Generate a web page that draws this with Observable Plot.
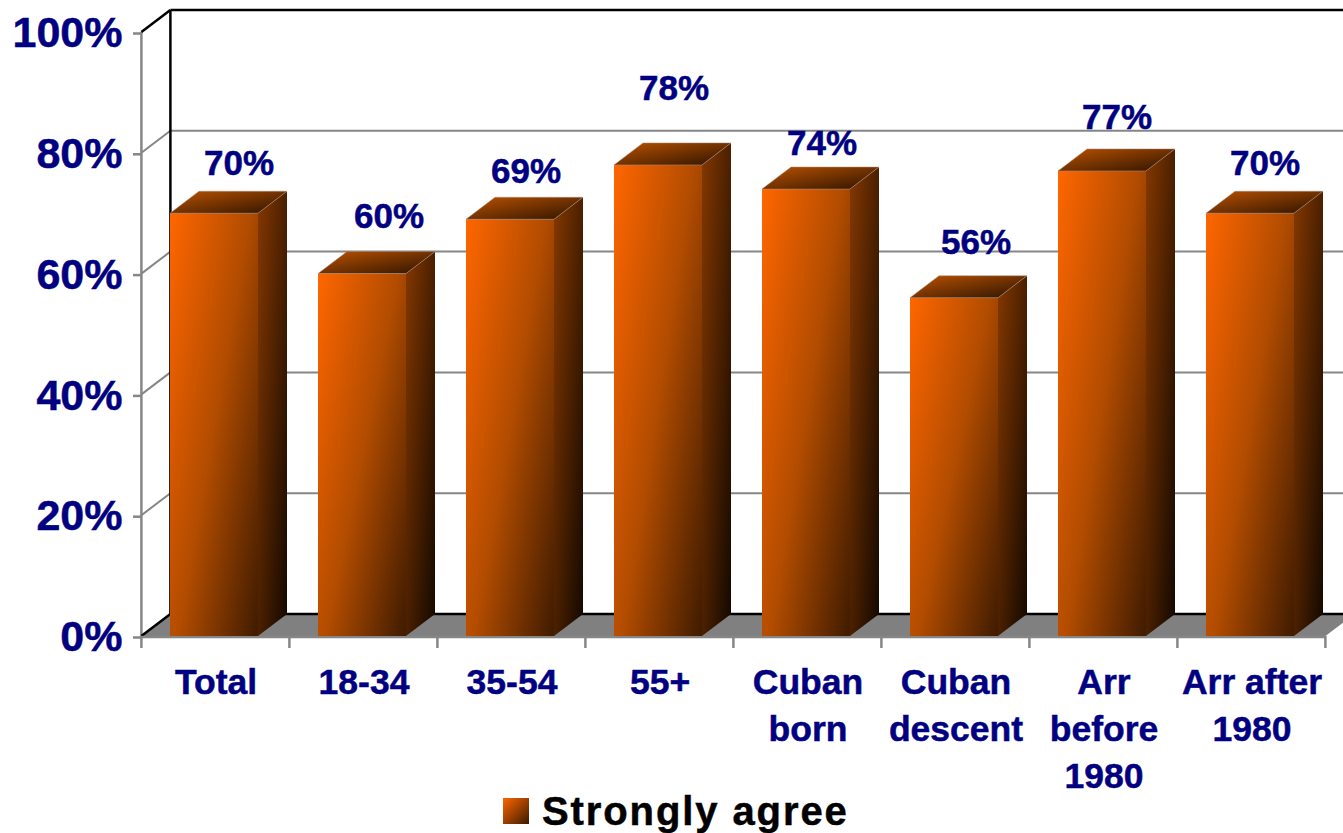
<!DOCTYPE html>
<html>
<head>
<meta charset="utf-8">
<script src="https://cdn.jsdelivr.net/npm/d3@7"></script>
<script src="https://cdn.jsdelivr.net/npm/@observablehq/plot@0.6"></script>
<style>
html,body{margin:0;padding:0;background:#fff;overflow:hidden;}
#page{position:relative;width:1343px;height:833px;}
#page svg{display:block;}
#chart svg text{stroke:#000080;stroke-width:0.5px;}
#legend{position:absolute;left:0;top:790px;width:1343px;height:43px;font-family:"Liberation Sans",Arial,sans-serif;font-weight:bold;font-size:40px;letter-spacing:1.9px;color:#000;}
#legend .sw{position:absolute;left:503px;top:8px;width:26px;height:26px;background:linear-gradient(135deg,#ff6600,#3a1a00);}
#legend .tx{position:absolute;left:542px;top:1px;line-height:41px;white-space:nowrap;-webkit-text-stroke:0.5px #000;}
</style>
</head>
<body>
<div id="page">
<div id="chart"></div>
<div id="legend"><span class="sw"></span><span class="tx">Strongly agree</span></div>
</div>
<script>
const categories = ["Total","18-34","35-54","55+","Cuban\nborn","Cuban\ndescent","Arr\nbefore\n1980","Arr after\n1980"];
const values = [70,60,69,78,74,56,77,70];
const yTicks = [0,20,40,60,80,100];

// Label placement (the original's labels float at hand-set spots)
const labelAt = [78.3,69.5,77,90.7,81.6,65.2,85.9,78.3];   // in percent units
const labelDx = [23,25,14,14,14,20,13,13];                  // in pixels

const rows = categories.map((c,i)=>({category:c,value:values[i]}));
const depthX = 29, depthY = 22, width = 1343;
const navy = "#000080", gray = "#868686";

function grad(defs,id,x2,y2,stops){
  const g = defs.append("svg:linearGradient").attr("id",id)
    .attr("x1",0).attr("y1",0).attr("x2",x2).attr("y2",y2);
  stops.forEach(([o,c])=>g.append("svg:stop").attr("offset",o).attr("stop-color",c));
}
const bw = (sx)=> sx.bandwidth ? sx.bandwidth() : 0;

// Walls, floor, gridlines, band ticks: placed with the chart's own scales
function room(index,{x,y}){
  const g = d3.create("svg:g");
  const defs = g.append("svg:defs");
  grad(defs,"front",1.089,0.891,[[0,"#ff6600"],[0.5,"#b24c00"],[1,"#3f1b00"]]);
  grad(defs,"side",1,1,[[0,"#853800"],[1,"#120800"]]);
  grad(defs,"top",1,1,[[0,"#bb5200"],[1,"#2c1300"]]);
  const x0 = x(categories[0]) , step = x(categories[1]) - x0;
  const left = x0 - step*0.2;
  const right = left + step*categories.length;
  const y0 = y(0), yMax = y(100);
  const line = (x1,y1,x2,y2,c,w)=>g.append("svg:line").attr("x1",x1).attr("y1",y1).attr("x2",x2).attr("y2",y2)
      .attr("stroke",c).attr("stroke-width",w);
  g.append("svg:polygon").attr("fill","#808080")
    .attr("points",[[left,y0],[left+depthX,y0-depthY],[right+depthX,y0-depthY],[right,y0]].join(" "));
  yTicks.slice(1,-1).forEach(v=>{
    line(left,y(v),left+depthX,y(v)-depthY,gray,2);
    line(left+depthX,y(v)-depthY,width,y(v)-depthY,gray,2);
  });
  line(left,y0,left,yMax,gray,2.5);
  line(left,y0,left+depthX,y0-depthY,"#000",2.5);
  line(left,yMax,left+depthX,yMax-depthY,"#000",2.5);
  line(left+depthX,y0-depthY,left+depthX,yMax-depthY,"#000",2.5);
  line(left+depthX,yMax-depthY,width,yMax-depthY,"#000",2.5);
  line(left+depthX,y0-depthY,width,y0-depthY,"#000",2.5);
  d3.range(categories.length+1).forEach(i=>line(left+i*step,y0,left+i*step,y0+12,gray,2.5));
  line(left,y0+1,right,y0+1,gray,2.5);
  return g.node();
}

// Side and top faces of every bar
function faces(index,{x,y}){
  const g = d3.create("svg:g");
  const w = bw(x) - 1;
  rows.forEach(d=>{
    const a = x(d.category) - 1, b = a + w, t = y(d.value), z = y(0);
    g.append("svg:polygon").attr("fill","url(#side)")
      .attr("points",[[b,t],[b+depthX,t-depthY],[b+depthX,z-depthY],[b,z]].join(" "));
    g.append("svg:polygon").attr("fill","url(#top)").attr("stroke","#a89080").attr("stroke-width",0.5)
      .attr("points",[[a,t],[a+depthX,t-depthY],[b+depthX,t-depthY],[b,t]].join(" "));
  });
  return g.node();
}

const labelFont = {fontFamily:"Liberation Sans",fontWeight:"bold",fill:navy};

const plot = Plot.plot({
  width, height:800,
  marginLeft:141, marginRight:17, marginTop:32, marginBottom:164,
  style:{background:"transparent",overflow:"hidden"},
  x:{domain:categories,paddingInner:0.4,paddingOuter:0.2,label:null},
  y:{domain:[0,100],label:null},
  marks:[
    room,
    Plot.axisY(yTicks,{tickFormat:d=>d+"%",tickSize:8,tickPadding:11,stroke:gray,strokeWidth:2.5,
      fontSize:43,dy:1,...labelFont,label:null}),
    Plot.axisX({tickSize:0,tickPadding:24,lineHeight:1.324,fontSize:35.5,...labelFont,label:null}),
    Plot.barY(rows,{x:"category",y:"value",fill:"url(#front)",dx:-1,insetRight:1}),
    faces,
    ...rows.map((d,i)=>Plot.text([d],{x:"category",y:()=>labelAt[i],text:r=>r.value+"%",dx:labelDx[i],
      fontSize:35,...labelFont}))
  ]
});
document.getElementById("chart").append(plot);
</script>
</body>
</html>
